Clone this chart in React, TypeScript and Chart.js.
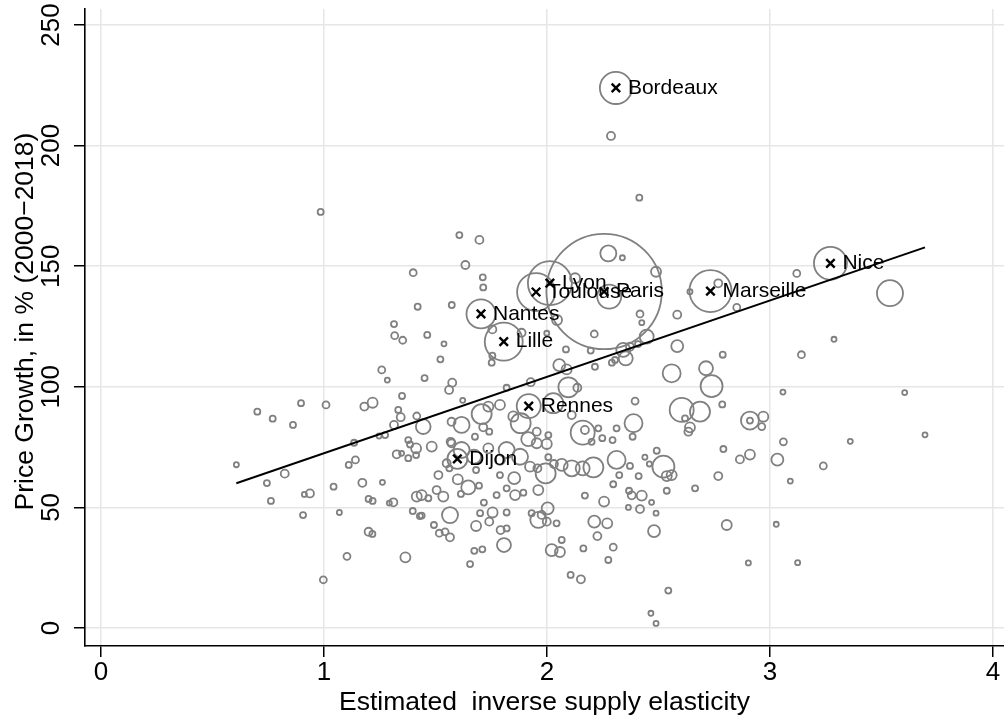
import React, { useEffect, useRef } from "react";
import { Chart, registerables } from "chart.js";

Chart.register(...registerables);

const FONT = "'Liberation Sans', Arial, Helvetica, sans-serif";

// ---- Data: commuting zones (elasticity, price growth %, population in thousands) ----
const elasticity = [
  0.607, 0.701, 0.744, 0.762, 0.770, 0.824, 0.861, 0.897, 0.906, 0.912, 0.937, 0.985, 0.997, 1.009, 1.043, 1.069,
  1.103, 1.111, 1.135, 1.141, 1.172, 1.181, 1.218, 1.200, 1.218, 1.200, 1.217, 1.247, 1.274, 1.259, 1.284, 1.262,
  1.293, 1.311, 1.314, 1.317, 1.353, 1.350, 1.333, 1.344, 1.314, 1.326, 1.348, 1.365, 1.378, 1.378, 1.386, 1.398,
  1.400, 1.413, 1.413, 1.416, 1.416, 1.420, 1.445, 1.430, 1.438, 1.438, 1.463, 1.451, 1.468, 1.483, 1.493, 1.505,
  1.513, 1.517, 1.522, 1.535, 1.538, 1.543, 1.550, 1.561, 1.562, 1.565, 1.565, 1.568, 1.572, 1.572, 1.573, 1.575,
  1.600, 1.607, 1.614, 1.617, 1.617, 1.622, 1.634, 1.647, 1.655, 1.673, 1.674, 1.677, 1.682, 1.682, 1.695, 1.697,
  1.700, 1.707, 1.710, 1.712, 1.714, 1.714, 1.717, 1.737, 1.737, 1.741, 1.741, 1.752, 1.755, 1.755, 1.756, 1.774,
  1.789, 1.789, 1.789, 1.792, 1.807, 1.819, 1.819, 1.819, 1.819, 1.819, 1.849, 1.853, 1.857, 1.879, 1.882, 1.886,
  1.894, 1.916, 1.924, 1.927, 1.931, 1.954, 1.954, 1.957, 1.961, 1.961, 1.976, 1.994, 1.999, 1.999, 1.999, 2.003,
  2.006, 2.006, 2.021, 2.028, 2.031, 2.043, 2.045, 2.055, 2.058, 2.066, 2.066, 2.085, 2.088, 2.096, 2.106, 2.111,
  2.111, 2.126, 2.136, 2.152, 2.160, 2.160, 2.163, 2.170, 2.170, 2.196, 2.200, 2.208, 2.212, 2.212, 2.215, 2.226,
  2.230, 2.248, 2.256, 2.270, 2.275, 2.275, 2.279, 2.287, 2.291, 2.294, 2.297, 2.297, 2.305, 2.312, 2.312, 2.324,
  2.338, 2.342, 2.353, 2.365, 2.368, 2.372, 2.372, 2.380, 2.384, 2.388, 2.395, 2.408, 2.411, 2.414, 2.417, 2.417,
  2.425, 2.425, 2.439, 2.447, 2.459, 2.466, 2.469, 2.480, 2.489, 2.489, 2.489, 2.492, 2.522, 2.537, 2.537, 2.544,
  2.559, 2.559, 2.584, 2.584, 2.604, 2.619, 2.634, 2.641, 2.641, 2.664, 2.686, 2.713, 2.738, 2.768, 2.768, 2.786,
  2.788, 2.791, 2.806, 2.851, 2.865, 2.903, 2.910, 2.910, 2.910, 2.963, 2.970, 3.028, 3.033, 3.058, 3.060, 3.091,
  3.120, 3.124, 3.141, 3.239, 3.287, 3.360, 3.538, 3.604, 3.695,
];

const growth = [
  67.7, 89.7, 60.1, 52.7, 86.8, 64.0, 84.2, 93.2, 46.8, 55.4, 55.8, 172.5, 20.0, 92.5, 58.6, 47.9,
  29.7, 67.6, 76.8, 69.7, 60.2, 91.8, 93.4, 53.5, 52.7, 39.9, 39.0, 79.6, 80.0, 107.0, 102.8, 60.4,
  51.8, 52.1, 126.0, 121.2, 119.3, 96.2, 90.4, 87.4, 84.2, 72.0, 72.4, 29.3, 70.4, 77.9, 76.1, 48.5,
  147.3, 74.5, 71.7, 87.9, 54.5, 133.2, 83.5, 46.4, 55.1, 46.6, 121.5, 103.6, 53.8, 75.2, 42.7, 57.2,
  63.4, 39.3, 111.4, 54.5, 117.8, 39.9, 68.3, 98.7, 66.2, 46.8, 37.6, 77.2, 85.5, 76.6, 133.9, 101.7,
  61.6, 162.9, 55.6, 84.2, 73.8, 94.4, 150.5, 58.3, 26.5, 71.0, 32.0, 79.3, 65.5, 42.3, 59.0, 160.9,
  47.6, 88.7, 32.6, 145.4, 141.2, 83.2, 52.0, 91.8, 74.5, 81.4, 44.1, 110.0, 112.9, 123.8, 47.9, 55.1,
  92.5, 69.7, 63.4, 40.6, 34.4, 99.6, 73.8, 57.9, 47.9, 41.3, 87.7, 62.1, 55.1, 71.0, 84.9, 122.4,
  56.1, 78.3, 66.9, 101.9, 47.6, 81.4, 76.6, 66.2, 57.2, 44.8, 46.9, 64.1, 76.3, 44.1, 122.2, 49.6,
  80.0, 70.8, 32.3, 93.2, 68.0, 43.4, 127.7, 109.0, 31.5, 67.6, 36.5, 115.5, 107.2, 99.8, 22.0, 66.2,
  88.3, 145.0, 99.6, 20.2, 81.0, 66.2, 33.0, 54.9, 82.1, 115.0, 77.2, 66.6, 44.1, 121.9, 108.3, 38.1,
  82.8, 78.7, 52.4, 43.4, 155.3, 28.2, 137.4, 204.0, 110.0, 77.9, 59.6, 33.5, 111.1, 82.8, 69.7, 63.4,
  153.5, 115.3, 111.8, 50.0, 56.9, 116.6, 67.2, 55.0, 79.3, 84.9, 94.1, 117.7, 63.0, 178.4, 130.2, 49.3,
  126.6, 54.9, 70.8, 120.8, 68.0, 6.1, 52.1, 40.2, 47.6, 1.9, 147.7, 73.5, 66.9, 63.0, 56.9, 15.5,
  105.6, 63.4, 129.9, 116.9, 90.4, 86.9, 81.4, 83.2, 139.4, 57.9, 89.7, 107.7, 100.3, 142.9, 63.0, 92.7,
  113.3, 74.2, 42.7, 132.9, 69.9, 27.0, 86.0, 86.0, 71.9, 83.5, 87.6, 43.0, 69.8, 97.8, 77.2, 60.9,
  147.0, 27.1, 113.3, 67.2, 119.7, 77.4, 138.8, 97.6, 80.1,
];

const population = [
  21, 30, 30, 30, 30, 53, 30, 30, 30, 21, 53, 30, 40, 40, 30, 21,
  40, 30, 30, 40, 53, 53, 83, 30, 30, 53, 30, 21, 30, 40, 21, 21,
  21, 53, 30, 40, 40, 30, 30, 53, 53, 53, 21, 83, 30, 30, 30, 30,
  40, 83, 30, 40, 83, 30, 180, 30, 83, 30, 30, 30, 30, 83, 30, 53,
  53, 40, 30, 83, 21, 40, 53, 53, 30, 212, 53, 53, 53, 53, 30, 53,
  83, 30, 30, 212, 212, 21, 53, 162, 30, 162, 30, 30, 30, 83, 30, 53,
  30, 330, 30, 30, 30, 53, 30, 83, 83, 30, 53, 30, 30, 53, 83, 30,
  83, 83, 30, 53, 162, 30, 212, 30, 30, 30, 83, 119, 83, 212, 330, 53,
  30, 162, 83, 53, 30, 53, 83, 53, 83, 212, 53, 330, 83, 53, 21, 119,
  30, 30, 119, 330, 53, 30, 83, 119, 83, 119, 30, 30, 83, 330, 30, 212,
  53, 83, 53, 53, 476, 162, 30, 30, 53, 30, 30, 330, 119, 40, 30, 53,
  30, 30, 83, 83, 212, 30, 476, 53, 30, 30, 30, 40, 30, 30, 268, 30,
  21, 162, 162, 21, 30, 53, 30, 53, 30, 268, 40, 30, 30, 30, 40, 53,
  21, 83, 21, 162, 21, 21, 21, 119, 21, 21, 83, 30, 400, 83, 30, 30,
  268, 83, 53, 119, 476, 30, 53, 83, 21, 30, 330, 162, 400, 53, 53, 30,
  30, 30, 83, 40, 53, 21, 268, 30, 83, 40, 83, 21, 119, 21, 40, 21,
  40, 21, 40, 40, 21, 21, 559, 21, 21,
];

// ---- Labelled cities ----
const cityNames = ["Bordeaux", "Lyon", "Toulouse", "Paris", "Marseille", "Nice", "Nantes", "Lille", "Rennes", "Dijon"];
const cityElasticity = [2.309, 2.013, 1.951, 2.256, 2.733, 3.271, 1.704, 1.806, 1.918, 1.598];
const cityGrowth = [223.9, 143.0, 139.3, 139.5, 139.7, 151.2, 130.2, 118.7, 92.0, 70.1];
const cityPopulation = [850, 1600, 1190, 11000, 1460, 900, 695, 1190, 476, 330];

// ---- Fitted line (endpoints) ----
const fitX = [0.607, 3.695];
const fitY = [60.0, 157.8];

// ---- Axes ----
const xTicks = [0, 1, 2, 3, 4];
const yTicks = [0, 50, 100, 150, 200, 250];
const xTitle = "Estimated  inverse supply elasticity";
const yTitle = "Price Growth, in % (2000\u22122018)";

const radiusOf = (pop: number) => 0.55 * Math.sqrt(pop);

export default function App() {
  const ref = useRef<HTMLCanvasElement | null>(null);

  useEffect(() => {
    const canvas = ref.current;
    if (!canvas) return;
    Chart.defaults.font.family = FONT;

    const points = elasticity.map((x, i) => ({ x, y: growth[i], r: radiusOf(population[i]) }));
    const cityBubbles = cityNames.map((_, i) => ({ x: cityElasticity[i], y: cityGrowth[i], r: radiusOf(cityPopulation[i]) }));
    const cityMarks = cityNames.map((_, i) => ({ x: cityElasticity[i], y: cityGrowth[i] }));
    const fitPts = fitX.map((x, i) => ({ x, y: fitY[i] }));

    const textPlugin = {
      id: "textPlugin",
      afterDatasetsDraw(chart: any) {
        const { ctx, chartArea } = chart;
        const xs = chart.scales.x;
        const ys = chart.scales.y;
        ctx.save();
        ctx.fillStyle = "#000";
        ctx.font = `21px ${FONT}`;
        ctx.textAlign = "left";
        ctx.textBaseline = "middle";
        cityNames.forEach((n, i) => {
          ctx.fillText(n, xs.getPixelForValue(cityElasticity[i]) + 12, ys.getPixelForValue(cityGrowth[i]));
        });
        ctx.font = `26.5px ${FONT}`;
        ctx.textAlign = "center";
        ctx.textBaseline = "alphabetic";
        ctx.fillText(xTitle, (chartArea.left + chartArea.right) / 2, chartArea.bottom + 64);
        ctx.translate(chartArea.left - 52, (chartArea.top + chartArea.bottom) / 2 - 6);
        ctx.rotate(-Math.PI / 2);
        ctx.fillText(yTitle, 0, 0);
        ctx.restore();
      },
    };

    const gridOpts = { color: "#e6e6e6", lineWidth: 1.5, drawTicks: true, tickLength: 11, tickColor: "#000", tickWidth: 1.5 };
    const borderOpts = { display: true, color: "#000", width: 1.6 };

    const chart = new Chart(canvas, {
      type: "bubble",
      data: {
        datasets: [
          {
            type: "scatter",
            data: cityMarks,
            pointStyle: "crossRot",
            pointRadius: 6,
            pointBorderColor: "#000",
            pointBorderWidth: 2.4,
            borderColor: "#000",
            backgroundColor: "#000",
            order: 0,
          } as any,
          {
            type: "line",
            data: fitPts,
            borderColor: "#000",
            borderWidth: 2,
            pointRadius: 0,
            fill: false,
            order: 1,
          } as any,
          {
            data: cityBubbles,
            borderColor: "#808080",
            backgroundColor: "rgba(0,0,0,0)",
            borderWidth: 1.8,
            order: 2,
          },
          {
            data: points,
            borderColor: "#808080",
            backgroundColor: "rgba(0,0,0,0)",
            borderWidth: 1.8,
            order: 3,
          },
        ],
      },
      options: {
        responsive: false,
        animation: false,
        events: [],
        layout: { autoPadding: false, padding: { top: 9, left: 0, right: 0, bottom: 0 } },
        plugins: { legend: { display: false }, tooltip: { enabled: false } },
        scales: {
          x: {
            type: "linear",
            position: "bottom",
            min: -0.0717,
            max: 4.0493,
            afterBuildTicks: (s: any) => {
              s.ticks = xTicks.map((v) => ({ value: v }));
            },
            afterFit: (s: any) => {
              s.height = 72;
              s.paddingLeft = 0;
              s.paddingRight = 0;
            },
            grid: gridOpts,
            border: borderOpts,
            ticks: { color: "#000", font: { family: FONT, size: 26 }, padding: 0 },
          },
          y: {
            type: "linear",
            position: "left",
            min: -7.46,
            max: 256.63,
            afterBuildTicks: (s: any) => {
              s.ticks = yTicks.map((v) => ({ value: v }));
            },
            afterFit: (s: any) => {
              s.width = 85;
              s.paddingTop = 0;
              s.paddingBottom = 0;
            },
            grid: gridOpts,
            border: borderOpts,
            ticks: {
              color: "#000",
              font: { family: FONT, size: 26 },
              padding: 0,
              minRotation: 90,
              maxRotation: 90,
              crossAlign: "center",
            },
          },
        },
      } as any,
      plugins: [textPlugin],
    });

    return () => chart.destroy();
  }, []);

  return (
    <div style={{ position: "absolute", left: 0, top: 0, width: 1004, height: 718, background: "#fff" }}>
      <canvas ref={ref} width={1004} height={718} style={{ width: 1004, height: 718, display: "block" }} />
    </div>
  );
}
